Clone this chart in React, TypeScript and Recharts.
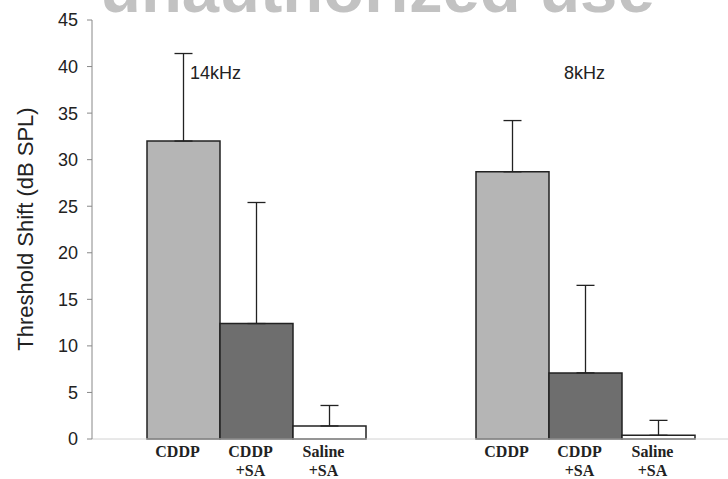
import { BarChart, Bar, XAxis, YAxis, ErrorBar, LabelList } from 'recharts'

// group (frequency) names and the three treatments in each group
const groups = ['14kHz', '8kHz']
const treatments = [['CDDP'], ['CDDP', '+SA'], ['Saline', '+SA']]

// mean threshold shift (dB SPL) and upper error (SD) per group
const cddp = [32, 28.7]
const cddpErr = [9.4, 5.5]
const cddpSa = [12.4, 7.1]
const cddpSaErr = [13.0, 9.4]
const saline = [1.4, 0.4]
const salineErr = [2.2, 1.6]

const yTicks = [0, 5, 10, 15, 20, 25, 30, 35, 40, 45]

const data = groups.map((g, i) => ({
  group: g,
  cddp: cddp[i],
  cddpErr: [0, cddpErr[i]],
  cddpSa: cddpSa[i],
  cddpSaErr: [0, cddpSaErr[i]],
  saline: saline[i],
  salineErr: [0, salineErr[i]],
}))

const sans = '"Liberation Sans", Arial, sans-serif'
const serif = '"Liberation Serif", "Times New Roman", serif'

const treatmentLabel = (lines: string[]) => (props: any) => {
  const { x, y, width, height } = props
  const cx = Number(x) + Number(width) / 2 - 6
  const base = Number(y) + Number(height)
  return (
    <text textAnchor="middle" fontFamily={serif} fontWeight="bold" fontSize={16} fill="#222">
      {lines.map((l, i) => (
        <tspan key={l} x={cx} y={base + 18 + i * 19}>
          {l}
        </tspan>
      ))}
    </text>
  )
}

const freqLabel = (props: any) => {
  const { x, width, index } = props
  const left = index === 0 ? Number(x) + Number(width) / 2 + 6.5 : Number(x) + Number(width) + 15
  return (
    <text x={left} y={79} fontFamily={sans} fontSize={18} fill="#222">
      {groups[index]}
    </text>
  )
}

export default function App() {
  return (
    <div
      style={{
        position: 'absolute',
        left: 0,
        top: 0,
        width: 728,
        height: 479,
        overflow: 'hidden',
        background: '#fff',
      }}
    >
      <BarChart
        width={760}
        height={479}
        data={data}
        margin={{ top: 20, right: 10, bottom: 0, left: 0 }}
        barGap={0}
        barSize={73}
      >
        <text x={100} y={12} fontFamily={sans} fontWeight="bold" fontSize={67} fill="#c2c2c2">
          unauthorized use
        </text>
        <XAxis
          dataKey="group"
          height={40}
          tick={false}
          tickLine={false}
          axisLine={{ stroke: '#d2d2d2', strokeWidth: 1 }}
        />
        <YAxis
          width={92}
          domain={[0, 45]}
          ticks={yTicks}
          interval={0}
          tickSize={5}
          tickMargin={9}
          tickLine={{ stroke: '#888' }}
          axisLine={{ stroke: '#888' }}
          tick={{ fill: '#222', fontSize: 18, fontFamily: sans }}
          label={{
            content: () => (
              <text
                x={25}
                y={229}
                transform="rotate(-90 25 229)"
                textAnchor="middle"
                dominantBaseline="central"
                fontFamily={sans}
                fontSize={22}
                fill="#222"
              >
                Threshold Shift (dB SPL)
              </text>
            ),
          }}
        />
        <Bar dataKey="cddp" fill="#b5b5b5" stroke="#222" strokeWidth={1.5} isAnimationActive={false}>
          <ErrorBar dataKey="cddpErr" width={9} stroke="#222" strokeWidth={1.3} direction="y" />
          <LabelList dataKey="cddp" content={treatmentLabel(treatments[0])} />
          <LabelList dataKey="cddp" content={freqLabel} />
        </Bar>
        <Bar dataKey="cddpSa" fill="#6e6e6e" stroke="#222" strokeWidth={1.5} isAnimationActive={false}>
          <ErrorBar dataKey="cddpSaErr" width={9} stroke="#222" strokeWidth={1.3} direction="y" />
          <LabelList dataKey="cddpSa" content={treatmentLabel(treatments[1])} />
        </Bar>
        <Bar dataKey="saline" fill="#ffffff" stroke="#222" strokeWidth={1.5} isAnimationActive={false}>
          <ErrorBar dataKey="salineErr" width={9} stroke="#222" strokeWidth={1.3} direction="y" />
          <LabelList dataKey="saline" content={treatmentLabel(treatments[2])} />
        </Bar>
      </BarChart>
    </div>
  )
}
